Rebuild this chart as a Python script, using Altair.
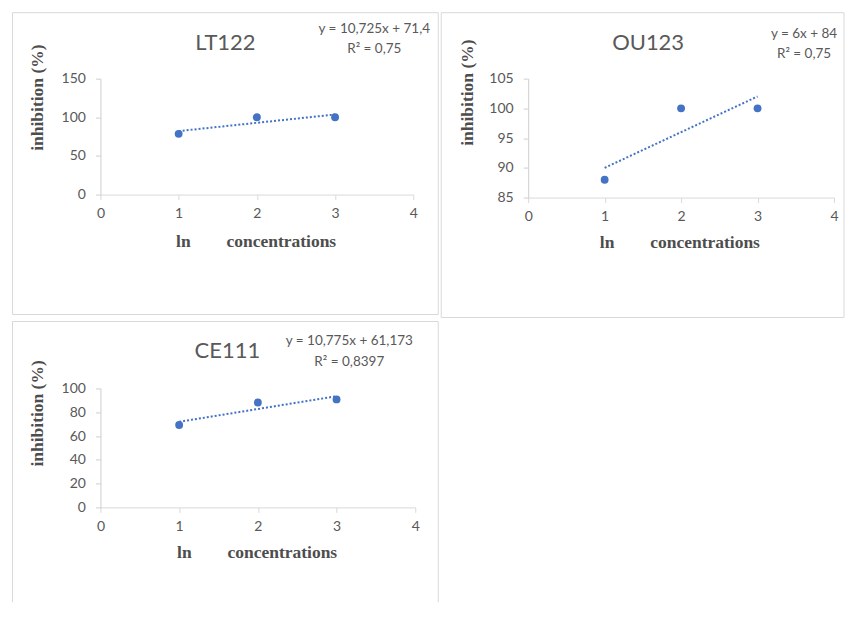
import altair as alt
import pandas as pd

# ---- data ----
x_vals = [1, 2, 3]
lt122_vals = [78.55, 100, 100]
ou123_vals = [88, 100, 100]
ce111_vals = [69.23, 88.16, 90.78]

panel_names = ["LT122", "OU123", "CE111"]
equations = [
    ["y = 10,725x + 71,4", "R² = 0,75"],
    ["y = 6x + 84", "R² = 0,75"],
    ["y = 10,775x + 61,173", "R² = 0,8397"],
]
y_ticks = [[0, 50, 100, 150], [85, 90, 95, 100, 105], [0, 20, 40, 60, 80, 100]]
x_ticks = [0, 1, 2, 3, 4]
y_title = "inhibition (%)"
x_title_parts = ["ln", "concentrations"]

BLUE = "#4472C4"
GRAY = "#595959"
LINE = "#d9d9d9"
TITLE_GRAY = "#4d4d4d"


def text_layer(txt, x, y, size, color=GRAY, font="Lato", weight="normal", angle=0):
    return alt.Chart(pd.DataFrame({"t": [txt]})).mark_text(
        font=font, fontSize=size, color=color, fontWeight=weight, angle=angle,
        align="center", baseline="middle"
    ).encode(x=alt.value(x), y=alt.value(y), text="t:N")


def hrule(x1, x2, y):
    return alt.Chart(pd.DataFrame({"a": [0]})).mark_rule(color=LINE, strokeWidth=1).encode(
        x=alt.value(x1), x2=alt.value(x2), y=alt.value(y))


def vrule(x, y1, y2):
    return alt.Chart(pd.DataFrame({"a": [0]})).mark_rule(color=LINE, strokeWidth=1).encode(
        x=alt.value(x), y=alt.value(y1), y2=alt.value(y2))


def panel(idx, yvals, w, h, box, title_pos, eq_pos, ytitle_pos, xtitle_pos, bottom=True):
    df = pd.DataFrame({"x": x_vals, "y": yvals})
    yt = y_ticks[idx]
    xscale = alt.Scale(domain=[0, 4], nice=False, zero=False)
    yscale = alt.Scale(domain=[yt[0], yt[-1]], nice=False, zero=False)
    xaxis = alt.Axis(values=x_ticks, title=None, grid=False, tickSize=5, labelPadding=7,
                     labelFlush=False, domainColor=LINE, tickColor=LINE, labelColor=GRAY,
                     labelFont="Lato", labelFontSize=14, format="d")
    yaxis = alt.Axis(values=yt, title=None, grid=False, tickSize=5, labelPadding=10,
                     domainColor="#cfcfcf", tickColor="#cfcfcf", labelColor=GRAY,
                     labelFont="Lato", labelFontSize=14, format="d")
    base = alt.Chart(df)
    trend = base.transform_regression("x", "y").mark_line(
        strokeDash=[2, 2], strokeWidth=2, color=BLUE).encode(
        x=alt.X("x:Q", scale=xscale, axis=xaxis), y=alt.Y("y:Q", scale=yscale, axis=yaxis))
    points = base.mark_circle(size=62, color=BLUE, opacity=1).encode(
        x=alt.X("x:Q", scale=xscale, axis=xaxis), y=alt.Y("y:Q", scale=yscale, axis=yaxis))

    l, r, t, b = box
    layers = [hrule(l, r, t), vrule(l, t, b), vrule(r, t, b)]
    if bottom:
        layers.append(hrule(l, r, b))
    layers += [
        trend,
        points,
        text_layer(panel_names[idx], title_pos[0], title_pos[1], 22),
        text_layer(equations[idx][0], eq_pos[0], eq_pos[1], 13.5),
        text_layer(equations[idx][1], eq_pos[0], eq_pos[1] + eq_pos[2], 13.5),
        text_layer(y_title, ytitle_pos[0], ytitle_pos[1], 17.5, color=TITLE_GRAY,
                   font="Liberation Serif", weight="bold", angle=270),
        text_layer(x_title_parts[0], xtitle_pos[0], xtitle_pos[2], 17.5, color=TITLE_GRAY,
                   font="Liberation Serif", weight="bold"),
        text_layer(x_title_parts[1], xtitle_pos[1], xtitle_pos[2], 17.5, color=TITLE_GRAY,
                   font="Liberation Serif", weight="bold"),
    ]
    return alt.layer(*layers).properties(width=w, height=h)


p1 = panel(0, lt122_vals, 313, 116, (-88, 338, -66, 236),
           (125, -36), (274, -50, 20), (-62, 19), (83, 181, 163))
p2 = panel(1, ou123_vals, 306, 119, (-87, 316, -66, 239),
           (120, -36), (276, -45, 20), (-60, 14), (79, 177, 164))
p3 = panel(2, ce111_vals, 315, 119, (-88, 338, -67, 214),
           (127, -37), (249, -47, 21), (-62, 25), (84, 182, 165), bottom=False)

chart = alt.vconcat(
    alt.hconcat(p1, p2, spacing=1),
    p3,
    spacing=2,
).properties(
    padding={"left": 3.5, "top": 3.5, "right": 0, "bottom": 0},
    background="white",
).configure_view(strokeWidth=0)

chart.save("out.html", embed_options={"renderer": "svg", "actions": False})
